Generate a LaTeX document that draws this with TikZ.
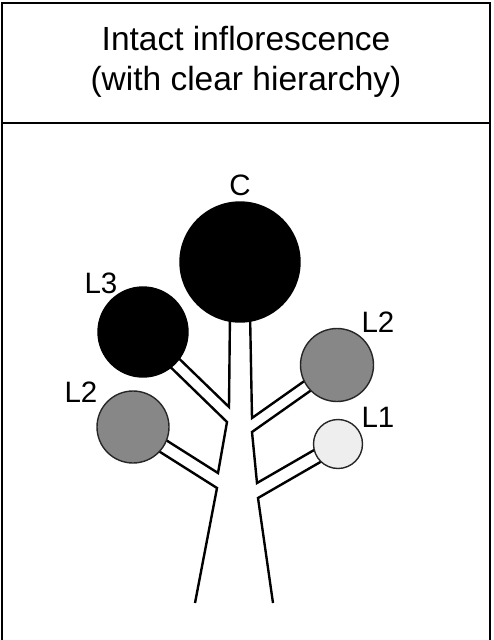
\documentclass[tikz,border=0pt]{standalone}
\usepackage{fontspec}
\setmainfont{Liberation Sans}
\usetikzlibrary{positioning,calc,backgrounds}

\definecolor{midgray}{HTML}{878787}
\definecolor{palegray}{HTML}{EEEEEE}

\begin{document}
\begin{tikzpicture}[x=1pt,y=-1pt]
		\tikzstyle{frame} = [draw, line width=2.5pt]
		\tikzstyle{flower} = [circle, draw=black!85, line width=1.4pt, inner sep=0pt]
		\tikzstyle{stalk} = [draw, line width=2.4pt, line join=miter]
		\tikzstyle{tag} = [inner sep=0pt, font=\fontsize{29.5}{34}\selectfont]
		\useasboundingbox (0,0) rectangle (494,640);

		% panel frame and heading
		\path[frame] (2,640) |- (490,3) -- (490,640);
		\path[frame] (2,123) -- (490,123);
		\node [align=center, font=\fontsize{33.5}{40}\selectfont] (title) at (246,62) {Intact inflorescence\\(with clear hierarchy)};

		% flowers
		\node [flower, fill=black, draw=black, minimum size=120pt] (C) at (240,262) {};
		\node [flower, fill=black, draw=black, minimum size=90pt] (L3) at (143,332) {};
		\node [flower, fill=midgray, minimum size=72pt] (L2a) at (133,427) {};
		\node [flower, fill=midgray, minimum size=73pt] (L2b) at (337,365) {};
		\node [flower, fill=palegray, minimum size=49pt] (L1) at (338,444) {};

		\node [tag] (tagC) at (240,185) {C};
		\node [tag] (tagL3) at (101,283) {L3};
		\node [tag] (tagL2a) at (81,392) {L2};
		\node [tag] (tagL2b) at (378,322) {L2};
		\node [tag] (tagL1) at (378,417) {L1};

		% stem outline
		\coordinate (ltop) at (230,312);
		\coordinate (lfork1) at (229,407);
		\coordinate (lfork2) at (227,422);
		\coordinate (lfork3) at (218,473);
		\coordinate (lfork4) at (217,488);
		\coordinate (lbase) at (195,603);
		\coordinate (rtop) at (250,312);
		\coordinate (rfork1) at (252,418);
		\coordinate (rfork2) at (252,432);
		\coordinate (rfork3) at (257,483);
		\coordinate (rfork4) at (258,498);
		\coordinate (rbase) at (273,603);

		\begin{scope}[on background layer]
		\path[stalk] (ltop) -- (lfork1) -- ($(L3)+(4.2,-4.3)$);
		\path[stalk] ($(L3)+(-4.2,4.3)$) -- (lfork2) -- (lfork3) -- ($(L2a)+(3.5,-5.6)$);
		\path[stalk] ($(L2a)+(-3.5,5.6)$) -- (lfork4) -- (lbase);
		\path[stalk] (rtop) -- (rfork1) -- ($(L2b)+(-3.3,-4.7)$);
		\path[stalk] ($(L2b)+(3.3,4.7)$) -- (rfork2) -- (rfork3) -- ($(L1)+(-3.4,-5.8)$);
		\path[stalk] ($(L1)+(3.4,5.9)$) -- (rfork4) -- (rbase);
		\end{scope}
	\end{tikzpicture}
\end{document}
